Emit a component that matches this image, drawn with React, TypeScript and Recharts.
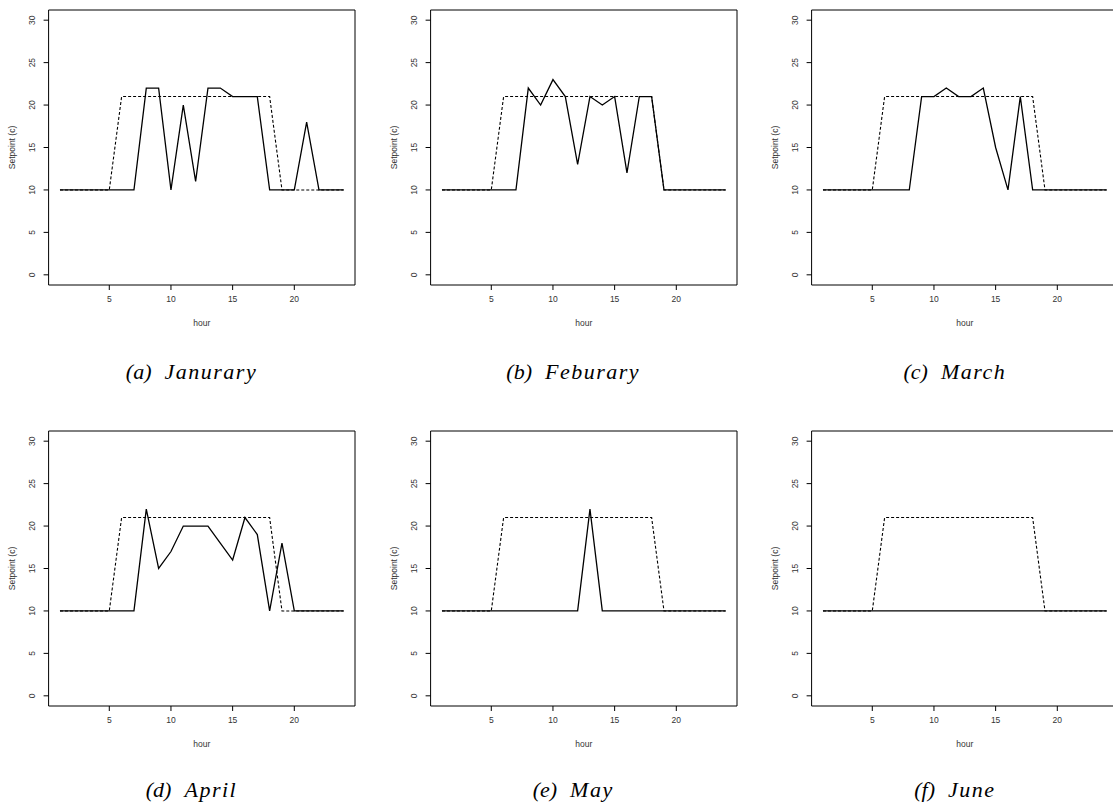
import { LineChart, Line, XAxis, YAxis, ReferenceArea, Label } from "recharts";

// hour of day, 1..24
const HOURS = [1, 2, 3, 4, 5, 6, 7, 8, 9, 10, 11, 12, 13, 14, 15, 16, 17, 18, 19, 20, 21, 22, 23, 24];

// dashed reference schedule (same in every panel)
const SCHEDULE = [10, 10, 10, 10, 10, 21, 21, 21, 21, 21, 21, 21, 21, 21, 21, 21, 21, 21, 10, 10, 10, 10, 10, 10];

// solid: learned setpoints per month
const JAN = [10, 10, 10, 10, 10, 10, 10, 22, 22, 10, 20, 11, 22, 22, 21, 21, 21, 10, 10, 10, 18, 10, 10, 10];
const FEB = [10, 10, 10, 10, 10, 10, 10, 22, 20, 23, 21, 13, 21, 20, 21, 12, 21, 21, 10, 10, 10, 10, 10, 10];
const MAR = [10, 10, 10, 10, 10, 10, 10, 10, 21, 21, 22, 21, 21, 22, 15, 10, 21, 10, 10, 10, 10, 10, 10, 10];
const APR = [10, 10, 10, 10, 10, 10, 10, 22, 15, 17, 20, 20, 20, 18, 16, 21, 19, 10, 18, 10, 10, 10, 10, 10];
const MAY = [10, 10, 10, 10, 10, 10, 10, 10, 10, 10, 10, 10, 22, 10, 10, 10, 10, 10, 10, 10, 10, 10, 10, 10];
const JUN = [10, 10, 10, 10, 10, 10, 10, 10, 10, 10, 10, 10, 10, 10, 10, 10, 10, 10, 10, 10, 10, 10, 10, 10];

const PANEL_LETTERS = ["(a)", "(b)", "(c)", "(d)", "(e)", "(f)"];
const PANEL_NAMES = ["Janurary", "Feburary", "March", "April", "May", "June"];
const PANEL_SERIES = [JAN, FEB, MAR, APR, MAY, JUN];

const X_TICKS = [5, 10, 15, 20];
const Y_TICKS = [0, 5, 10, 15, 20, 25, 30];

// R's default 4% axis extension
const X_DOMAIN = [0.08, 24.92];
const Y_DOMAIN = [-1.2, 31.2];

const FONT = "'Liberation Sans', Arial, Helvetica, sans-serif";
const TXT = "#333";

const CHART_W = 372;
const CHART_H = 330;
const PLOT_LEFT = 48.6;
const COL_STEP = 381.7;
const ROW_TOPS = [0, 420.7];
const CAPTION_Y = [372, 790];

const YTick = (props: any) => {
  const { y, payload } = props;
  const x = PLOT_LEFT - 16.5;
  return (
    <text
      x={x}
      y={y}
      transform={`rotate(-90, ${x}, ${y})`}
      textAnchor="middle"
      dominantBaseline="central"
      fontSize={8.5}
      fontFamily={FONT}
      fill={TXT}
    >
      {payload.value}
    </text>
  );
};

function Panel({ series }: { series: number[] }) {
  const data = HOURS.map((h, i) => ({ hour: h, learned: series[i], schedule: SCHEDULE[i] }));
  return (
    <LineChart
      width={CHART_W}
      height={CHART_H}
      data={data}
      margin={{ top: 10, right: 17, bottom: 0, left: 0 }}
    >
      <XAxis
        dataKey="hour"
        type="number"
        domain={X_DOMAIN}
        ticks={X_TICKS}
        allowDataOverflow
        height={45}
        axisLine={false}
        tickLine={{ stroke: "#000" }}
        tickSize={5}
        tickMargin={6}
        tick={{ fontSize: 8.5, fontFamily: FONT, fill: TXT }}
      >
        <Label
          value="hour"
          position="insideBottom"
          offset={4}
          style={{ fontSize: 8.5, fontFamily: FONT, fill: TXT }}
        />
      </XAxis>
      <YAxis
        type="number"
        domain={Y_DOMAIN}
        ticks={Y_TICKS}
        allowDataOverflow
        width={PLOT_LEFT}
        axisLine={false}
        tickLine={{ stroke: "#000" }}
        tickSize={5}
        tick={<YTick />}
      >
        <Label
          content={(p: any) => {
            const vb = p.viewBox || {};
            const cx = 12.3;
            const cy = (vb.y ?? 10) + (vb.height ?? 275) / 2;
            return (
              <text
                x={cx}
                y={cy}
                transform={`rotate(-90, ${cx}, ${cy})`}
                textAnchor="middle"
                dominantBaseline="central"
                fontSize={8.5}
                fontFamily={FONT}
                fill={TXT}
              >
                Setpoint (c)
              </text>
            );
          }}
        />
      </YAxis>
      <ReferenceArea
        x1={X_DOMAIN[0]}
        x2={X_DOMAIN[1]}
        y1={Y_DOMAIN[0]}
        y2={Y_DOMAIN[1]}
        fill="none"
        stroke="#000"
        strokeWidth={1}
        ifOverflow="visible"
      />
      <Line
        dataKey="learned"
        stroke="#000"
        strokeWidth={1.3}
        dot={false}
        isAnimationActive={false}
      />
      <Line
        dataKey="schedule"
        stroke="#000"
        strokeWidth={1.1}
        strokeDasharray="3 2"
        dot={false}
        isAnimationActive={false}
      />
    </LineChart>
  );
}

export default function App() {
  return (
    <div
      style={{
        position: "absolute",
        left: 0,
        top: 0,
        width: 1113,
        height: 805,
        overflow: "hidden",
        background: "#fff",
      }}
    >
      {PANEL_SERIES.map((s, i) => {
        const col = i % 3;
        const row = Math.floor(i / 3);
        return (
          <div
            key={i}
            style={{ position: "absolute", left: col * COL_STEP, top: ROW_TOPS[row] }}
          >
            <Panel series={s} />
          </div>
        );
      })}
      {PANEL_NAMES.map((name, i) => {
        const col = i % 3;
        const row = Math.floor(i / 3);
        return (
          <div
            key={name}
            style={{
              position: "absolute",
              left: 191.5 + col * COL_STEP - 150,
              width: 300,
              top: CAPTION_Y[row] - 14,
              height: 28,
              lineHeight: "28px",
              textAlign: "center",
              fontFamily: "'Liberation Serif', 'DejaVu Serif', serif",
              fontStyle: "italic",
              fontSize: 22,
              color: "#000",
              whiteSpace: "nowrap",
            }}
          >
            <span style={{ marginRight: 13 }}>{PANEL_LETTERS[i]}</span>
            <span style={{ letterSpacing: 1.5 }}>{name}</span>
          </div>
        );
      })}
    </div>
  );
}
